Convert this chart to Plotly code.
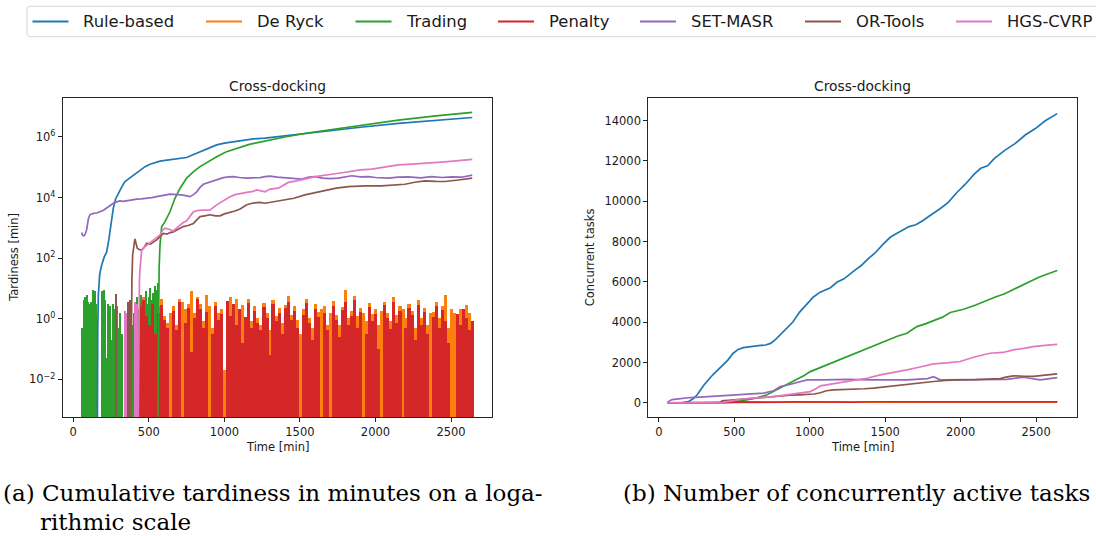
import plotly.graph_objects as go

# ---------------- data ----------------
SERIES = ["Rule-based", "De Ryck", "Trading", "Penalty", "SET-MASR", "OR-Tools", "HGS-CVRP"]
COLORS = ["#1f77b4", "#ff7f0e", "#2ca02c", "#d62728", "#9467bd", "#8c564b", "#e377c2"]

X_TICKS = [0, 500, 1000, 1500, 2000, 2500]
LOG_TICKS = [1e-2, 1e0, 1e2, 1e4, 1e6]
LOG_TICK_TEXT = ["10<sup>\u22122</sup>", "10<sup>0</sup>", "10<sup>2</sup>", "10<sup>4</sup>", "10<sup>6</sup>"]
LIN_TICKS = [0, 2000, 4000, 6000, 8000, 10000, 12000, 14000]

# (a) cumulative tardiness [min]
rule_tard_t = [60, 150, 158, 162, 166, 175, 188, 205, 221, 235, 250, 265, 280, 298, 320, 342, 375, 410, 442, 475,
               508, 540, 574, 620, 661, 705, 750, 800, 839, 900, 949, 1000, 1059, 1120, 1192, 1269, 1400, 1550,
               1710, 1900, 2151, 2400, 2640]
rule_tard_v = [0, 0, 0, 0.5, 6, 30, 60, 110, 160, 400, 1500, 4500, 9000, 14000, 22000, 34000, 45000, 62000,
               82000, 105000, 126000, 145000, 160000, 172000, 180000, 192000, 210000, 270000, 330000, 440000,
               550000, 630000, 700000, 780000, 860000, 920000, 1100000, 1350000, 1650000, 2100000, 2800000,
               3600000, 4400000]

deryck_tard_t = list(range(420, 2641, 20))
deryck_tard_v = [1.5, 3.0, 5.0, 2.0, 0.8, 4.0, 0.5, 2.5, 4.5, 1.2,
                 0.7, 1.5, 2.5, 0.6, 4.5, 3.5, 2.0, 3.0, 8.0, 1.5,
                 5.0, 3.0, 0.8, 6.0, 2.5, 0.5, 3.5, 1.5, 2.0, 0.02,
                 0, 5.0, 1.8, 4.5, 1.0, 2.8, 0.4, 4.5, 0.8, 2.5,
                 1.0, 0.6, 3.2, 1.5, 0.4, 4.0, 1.2, 2.2, 0.7, 2.8,
                 5.5, 1.3, 2.5, 0.9, 0.3, 2.0, 4.5, 1.0, 0.5, 3.0,
                 1.6, 2.0, 2.5, 0.6, 1.5, 3.8, 1.3, 0.6, 2.4, 8.5,
                 1.0, 1.8, 5.5, 1.2, 2.2, 1.5, 0.8, 3.2, 1.4, 2.0,
                 0.6, 1.8, 3.5, 1.5, 0.8, 5.0, 1.3, 2.5, 2.0, 1.0,
                 3.0, 1.8, 0.5, 4.0, 1.0, 2.2, 0.6, 1.5, 1.6, 3.5,
                 1.0, 2.5, 6.0, 0.5, 2.0, 1.5, 0.8, 2.0, 1.0, 2.8, 1.5, 0.7]

trading_spike_t = list(range(60, 561, 10))
trading_spike_v = [0.5, 4, 5, 6, 3.5, 3, 3.5, 9, 8, 3,
                   0, 0, 0, 8, 9, 4, 0.05, 3, 2.5, 0.2,
                   3, 2, 0, 2.5, 0.5, 1.5, 0.3, 0, 1.0, 0.4,
                   2.2, 1.0, 2.0, 0.6, 1.5, 3.0, 5.0, 2.0, 3.5, 6.0,
                   2.5, 4.0, 8.0, 3.0, 5.0, 10, 4.0, 7.0, 12, 9, 15]
trading_tard_t = [555, 564, 568, 574, 585, 607, 640, 673, 706, 750, 800, 839, 900, 949, 1010, 1081, 1160, 1236,
                  1269, 1400, 1550, 1710, 1900, 2151, 2400, 2640]
trading_tard_v = [0, 19, 47, 275, 1100, 1600, 3400, 9500, 20000, 44000, 75000, 105000, 165000, 224000, 320000,
                  427000, 560000, 680000, 740000, 1000000, 1350000, 1750000, 2500000, 3600000, 5000000, 6500000]

penalty_tard_t = list(range(440, 2641, 20))
penalty_tard_v = [2.5, 4.0, 1.2, 0.6, 3.0, 0.3, 1.5, 2.8, 0.9, 0.5,
                  0, 1.8, 0.4, 3.5, 0, 0.7, 2.2, 0.08, 1.0, 4.5,
                  2.0, 0.5, 1.6, 0, 0.3, 2.6, 0.9, 1.4, 0, 3.8,
                  1.2, 3.0, 0.6, 2.0, 0.15, 1.1, 3.3, 0.5, 1.8, 0.7,
                  0.4, 2.4, 1.0, 0.06, 2.9, 0.8, 1.5, 0.3, 2.2, 3.6,
                  0.9, 1.7, 0.5, 0, 1.3, 3.2, 0.7, 0.2, 2.0, 1.1,
                  0, 1.5, 0.4, 0, 2.6, 0.9, 0.25, 1.9, 3.4, 0.6,
                  1.2, 4.0, 0.5, 1.6, 0, 0.3, 2.3, 0.8, 1.4, 0.1,
                  0, 2.7, 1.0, 0.45, 3.6, 0.7, 1.8, 0, 0.5, 2.2,
                  1.3, 0.2, 2.8, 0.6, 1.6, 0.3, 0, 1.1, 2.5, 0.5,
                  1.9, 0.8, 0.15, 0, 0, 1.4, 0.6, 2.0, 1.0, 0.4, 0.8]

setmasr_tard_t = [55, 62, 71, 80, 88, 100, 110, 133, 155, 177, 200, 221, 243, 265, 287, 309, 331, 353, 380, 420,
                  450, 486, 520, 552, 590, 640, 690, 728, 772, 795, 817, 840, 861, 890, 927, 960, 993, 1030, 1059,
                  1100, 1148, 1190, 1236, 1269, 1302, 1350, 1401, 1450, 1512, 1560, 1600, 1650, 1700, 1754, 1800,
                  1843, 1900, 1950, 2000, 2085, 2150, 2217, 2300, 2371, 2440, 2503, 2570, 2640]
setmasr_tard_v = [700, 560, 550, 640, 850, 2000, 2700, 3000, 3100, 3400, 3800, 4500, 5500, 6500, 7200, 7800, 7500,
                  7800, 8500, 8900, 9000, 9300, 10000, 10700, 11500, 12900, 12500, 12000, 10700, 12500, 15500,
                  22000, 27500, 31000, 35500, 40000, 45700, 48000, 49000, 46000, 43600, 45000, 45700, 49000, 51000,
                  47000, 45700, 44000, 40700, 47000, 49000, 44000, 42000, 43600, 47000, 52500, 48000, 49000, 46000,
                  43600, 47000, 47900, 45000, 49000, 46000, 48000, 47000, 55000]

ortools_spike_t = [285, 365, 375]
ortools_spike_v = [6.5, 3.5, 4.0]
ortools_tard_t = [375, 382, 388, 393, 400, 408, 416, 424, 440, 453, 470, 486, 510, 530, 552, 575, 596, 620, 640,
                  662, 690, 710, 728, 760, 795, 820, 839, 870, 905, 940, 971, 1000, 1037, 1070, 1104, 1130, 1148,
                  1190, 1236, 1269, 1302, 1350, 1401, 1460, 1533, 1600, 1666, 1740, 1820, 1930, 2040, 2120, 2195,
                  2260, 2327, 2400, 2459, 2548, 2640]
ortools_tard_v = [0, 0.5, 20, 130, 250, 430, 300, 210, 190, 185, 230, 310, 290, 330, 400, 520, 660, 620, 700, 740,
                  900, 1000, 1100, 1200, 1400, 1900, 2350, 2500, 2700, 2500, 2500, 2900, 3200, 3600, 4200, 5000,
                  5800, 6600, 6900, 6500, 6900, 7500, 8300, 9500, 12300, 14500, 17800, 20500, 22900, 24500, 24500,
                  25500, 27500, 32000, 35500, 34000, 33900, 38000, 43600]

hgs_spike_t = [340, 350, 410, 420]
hgs_spike_v = [1.7, 1.5, 3.5, 3.0]
hgs_tard_t = [425, 433, 438, 442, 448, 453, 475, 500, 530, 552, 574, 590, 607, 635, 662, 685, 706, 728, 750, 772,
              795, 830, 861, 905, 949, 993, 1037, 1070, 1104, 1148, 1190, 1214, 1269, 1302, 1357, 1390, 1423, 1470,
              1512, 1560, 1600, 1660, 1710, 1780, 1843, 1900, 1975, 2060, 2151, 2240, 2327, 2400, 2459, 2550, 2640]
hgs_tard_v = [0, 0.5, 20, 47, 130, 186, 240, 300, 400, 480, 590, 820, 980, 900, 790, 1000, 1260, 1500, 1700, 2500,
              3400, 3800, 3900, 3900, 5750, 7760, 10700, 12500, 13800, 14800, 16000, 17800, 15500, 19000, 20400,
              25000, 31600, 35000, 38000, 44000, 49000, 53000, 58900, 66000, 75900, 82000, 87000, 100000, 120000,
              128000, 135000, 145000, 151000, 165000, 182000]

# (b) number of concurrently active tasks
rule_conc_t = [55, 150, 197, 231, 254, 299, 356, 412, 457, 491, 525, 560, 605, 660, 707, 740, 774, 842, 888, 933,
               978, 1024, 1069, 1137, 1182, 1227, 1295, 1341, 1386, 1431, 1488, 1533, 1590, 1658, 1703, 1748, 1805,
               1861, 1918, 1975, 2031, 2088, 2133, 2178, 2224, 2292, 2360, 2428, 2495, 2563, 2640]
rule_conc_v = [0, 0, 60, 230, 400, 890, 1380, 1790, 2120, 2450, 2650, 2740, 2800, 2840, 2870, 2950, 3150, 3640,
               4010, 4500, 4890, 5250, 5490, 5710, 5990, 6150, 6560, 6810, 7140, 7420, 7880, 8210, 8460, 8740,
               8830, 9030, 9330, 9610, 9940, 10430, 10840, 11330, 11630, 11750, 12120, 12520, 12850, 13280, 13600,
               14000, 14340]
deryck_conc_t = [55, 420, 440, 520, 600, 700, 800, 900, 1000, 1100, 1200, 1300, 1400, 1500, 1600, 1700, 1800,
                 1900, 2000, 2100, 2200, 2300, 2400, 2500, 2640]
deryck_conc_v = [0, 0, 20, 30, 25, 35, 30, 40, 30, 25, 35, 30, 40, 35, 45, 30, 35, 30, 40, 30, 35, 30, 40, 30, 35]
trading_conc_t = [55, 430, 500, 585, 650, 717, 770, 827, 870, 916, 960, 1004, 1060, 1114, 1180, 1247, 1310, 1379,
                  1450, 1512, 1580, 1644, 1710, 1770, 1820, 1880, 1931, 2019, 2100, 2174, 2230, 2292, 2360, 2428,
                  2518, 2580, 2640]
trading_conc_v = [0, 0, 40, 150, 250, 400, 600, 840, 1000, 1170, 1350, 1550, 1720, 1880, 2080, 2300, 2500, 2710,
                  2930, 3120, 3300, 3450, 3780, 3930, 4080, 4250, 4480, 4640, 4850, 5100, 5250, 5410, 5650, 5900,
                  6230, 6400, 6560]
penalty_conc_t = [55, 420, 440, 520, 600, 700, 800, 900, 1000, 1100, 1200, 1300, 1400, 1500, 1600, 1700, 1800,
                  1900, 2000, 2100, 2200, 2300, 2400, 2500, 2640]
penalty_conc_v = [0, 0, 30, 45, 35, 50, 40, 55, 45, 35, 50, 40, 55, 45, 60, 40, 50, 45, 55, 40, 50, 45, 55, 40, 50]
setmasr_conc_t = [55, 70, 88, 150, 209, 300, 430, 550, 695, 760, 805, 860, 916, 982, 1092, 1247, 1423, 1644, 1780,
                  1820, 1864, 2085, 2306, 2416, 2527, 2640]
setmasr_conc_v = [0, 100, 165, 220, 265, 300, 350, 420, 480, 600, 810, 900, 1010, 1140, 1140, 1170, 1140, 1140,
                  1200, 1300, 1140, 1140, 1170, 1270, 1140, 1250]
ortools_conc_t = [55, 400, 420, 480, 541, 600, 650, 700, 761, 820, 870, 930, 982, 1030, 1070, 1110, 1158, 1220,
                  1290, 1360, 1423, 1500, 1600, 1700, 1820, 1900, 1975, 2100, 2262, 2300, 2350, 2420, 2482, 2560,
                  2640]
ortools_conc_v = [0, 0, 100, 140, 170, 210, 250, 290, 330, 360, 380, 400, 420, 440, 500, 600, 640, 650, 680, 700,
                  730, 800, 890, 950, 1060, 1110, 1140, 1150, 1200, 1280, 1340, 1320, 1310, 1380, 1440]
hgs_conc_t = [55, 411, 480, 541, 650, 761, 894, 1004, 1040, 1070, 1140, 1203, 1290, 1379, 1467, 1550, 1644, 1730,
              1820, 1910, 1997, 2085, 2195, 2280, 2350, 2420, 2482, 2560, 2640]
hgs_conc_v = [0, 0, 100, 180, 250, 310, 450, 560, 700, 840, 930, 1010, 1100, 1220, 1390, 1500, 1640, 1780, 1930,
              1980, 2050, 2260, 2460, 2500, 2630, 2700, 2790, 2850, 2900]

# ---------------- geometry / style ----------------
W, H = 1096, 536
FONT = "DejaVu Sans"
SERIF = "DejaVu Serif"
AXIS_COLOR = "#262626"
TEXT_COLOR = "#1a1a1a"
LW = 1.7
FLOOR = 1e-6  # where zero tardiness is drawn on the log axis (below the visible range)


def fx(p):
    return p / W


def fy(p):
    return 1 - p / H


L_DOM = [fx(62.7), fx(492.0)]
R_DOM = [fx(648.3), fx(1077.0)]
Y_DOM = [fy(417.3), fy(98.3)]


def floored(vals):
    return [v if v > 0 else FLOOR for v in vals]


def nonzero(vals):
    return [v if v > 0 else None for v in vals]


fig = go.Figure()
C = dict(zip(SERIES, COLORS))

# ---- left panel: spiky parts as bars (zero = gap) ----
bar_specs = [
    ("De Ryck", deryck_tard_t, deryck_tard_v, 20.5),
    ("Trading", trading_spike_t, trading_spike_v, 10.3),
    ("Penalty", penalty_tard_t, penalty_tard_v, 20.5),
    ("OR-Tools", ortools_spike_t, ortools_spike_v, 10),
    ("HGS-CVRP", hgs_spike_t, hgs_spike_v, 10),
]
for name, t, v, w in bar_specs:
    fig.add_trace(go.Bar(x=t, y=nonzero(v), width=w, name=name, showlegend=False,
                         marker=dict(color=C[name], line=dict(width=0)), xaxis="x", yaxis="y"))

line_specs_a = [
    ("Rule-based", rule_tard_t, rule_tard_v),
    ("Trading", trading_tard_t, trading_tard_v),
    ("SET-MASR", setmasr_tard_t, setmasr_tard_v),
    ("OR-Tools", ortools_tard_t, ortools_tard_v),
    ("HGS-CVRP", hgs_tard_t, hgs_tard_v),
]
for name, t, v in line_specs_a:
    fig.add_trace(go.Scatter(x=t, y=floored(v), mode="lines", name=name, showlegend=False,
                             line=dict(color=C[name], width=LW), xaxis="x", yaxis="y"))

# ---- right panel ----
line_specs_b = [
    ("Rule-based", rule_conc_t, rule_conc_v),
    ("De Ryck", deryck_conc_t, deryck_conc_v),
    ("Trading", trading_conc_t, trading_conc_v),
    ("Penalty", penalty_conc_t, penalty_conc_v),
    ("SET-MASR", setmasr_conc_t, setmasr_conc_v),
    ("OR-Tools", ortools_conc_t, ortools_conc_v),
    ("HGS-CVRP", hgs_conc_t, hgs_conc_v),
]
for name, t, v in line_specs_b:
    fig.add_trace(go.Scatter(x=t, y=v, mode="lines", name=name, showlegend=False,
                             line=dict(color=C[name], width=LW), xaxis="x2", yaxis="y2"))

tickfont = dict(family=FONT, size=11.5, color=TEXT_COLOR)
common_axis = dict(showline=True, mirror=True, linecolor=AXIS_COLOR, linewidth=1, ticks="outside",
                   ticklen=4, tickwidth=1, tickcolor=AXIS_COLOR, showgrid=False, zeroline=False,
                   tickfont=tickfont)

fig.update_layout(
    width=W, height=H, margin=dict(l=0, r=0, t=0, b=0),
    paper_bgcolor="white", plot_bgcolor="white",
    barmode="overlay", bargap=0, showlegend=False,
    xaxis=dict(domain=L_DOM, anchor="y", range=[-70, 2771], tickvals=X_TICKS, tickformat="d", **common_axis),
    yaxis=dict(domain=Y_DOM, anchor="x", type="log", range=[-3.254, 7.277], tickvals=LOG_TICKS,
               ticktext=LOG_TICK_TEXT, **common_axis),
    xaxis2=dict(domain=R_DOM, anchor="y2", range=[-70, 2771], tickvals=X_TICKS, tickformat="d", **common_axis),
    yaxis2=dict(domain=Y_DOM, anchor="x2", range=[-715, 15100], tickvals=LIN_TICKS, tickformat="d",
                **common_axis),
)

ann = []
# subplot titles and axis labels
for cx in [(62.7 + 492.0) / 2, (648.3 + 1077.0) / 2]:
    ann.append(dict(x=fx(cx), y=fy(86.5), xref="paper", yref="paper", text="Cross-docking", showarrow=False,
                    xanchor="center", yanchor="middle", font=dict(family=FONT, size=13.8, color=TEXT_COLOR)))
    ann.append(dict(x=fx(cx), y=fy(446.5), xref="paper", yref="paper", text="Time [min]", showarrow=False,
                    xanchor="center", yanchor="middle", font=dict(family=FONT, size=11.5, color=TEXT_COLOR)))
ann.append(dict(x=fx(14), y=fy(257.8), xref="paper", yref="paper", text="Tardiness [min]", showarrow=False,
                textangle=-90, xanchor="center", yanchor="middle", font=dict(family=FONT, size=11.5, color=TEXT_COLOR)))
ann.append(dict(x=fx(589.5), y=fy(257.8), xref="paper", yref="paper", text="Concurrent tasks", showarrow=False,
                textangle=-90, xanchor="center", yanchor="middle", font=dict(family=FONT, size=11.5, color=TEXT_COLOR)))

# captions
ann.append(dict(x=fx(1), y=fy(493), xref="paper", yref="paper",
                text="(a) Cumulative tardiness in minutes on a loga-", showarrow=False,
                xanchor="left", yanchor="middle", font=dict(family=SERIF, size=23, color="black")))
ann.append(dict(x=fx(38.4), y=fy(522), xref="paper", yref="paper", text="rithmic scale", showarrow=False,
                xanchor="left", yanchor="middle", font=dict(family=SERIF, size=23, color="black")))
ann.append(dict(x=fx(856), y=fy(493), xref="paper", yref="paper",
                text="(b) Number of concurrently active tasks", showarrow=False,
                xanchor="center", yanchor="middle", font=dict(family=SERIF, size=23, color="black")))

# legend (framed row of line handles + labels, like matplotlib's ncol=7 legend)
LEG_X = [32.5, 206, 355.5, 498, 640, 805, 956]
LEG_Y = 21.5
shapes = []
x0, x1, y0, y1, r = 27, 1104, 6.3, 36.7, 3
path = (f"M {fx(x0 + r)},{fy(y0)} L {fx(x1 - r)},{fy(y0)} Q {fx(x1)},{fy(y0)} {fx(x1)},{fy(y0 + r)} "
        f"L {fx(x1)},{fy(y1 - r)} Q {fx(x1)},{fy(y1)} {fx(x1 - r)},{fy(y1)} "
        f"L {fx(x0 + r)},{fy(y1)} Q {fx(x0)},{fy(y1)} {fx(x0)},{fy(y1 - r)} "
        f"L {fx(x0)},{fy(y0 + r)} Q {fx(x0)},{fy(y0)} {fx(x0 + r)},{fy(y0)} Z")
shapes.append(dict(type="path", xref="paper", yref="paper", path=path,
                   line=dict(color="#d6d6d6", width=1), fillcolor="rgba(255,255,255,0.8)", layer="above"))
for lx, name in zip(LEG_X, SERIES):
    shapes.append(dict(type="line", xref="paper", yref="paper", x0=fx(lx), x1=fx(lx + 36), y0=fy(LEG_Y),
                       y1=fy(LEG_Y), line=dict(color=C[name], width=2.2), layer="above"))
    ann.append(dict(x=fx(lx + 48.5), y=fy(LEG_Y), xref="paper", yref="paper", text=name, showarrow=False,
                    xanchor="left", yanchor="middle", font=dict(family=FONT, size=16.4, color=TEXT_COLOR)))

fig.update_layout(annotations=ann, shapes=shapes)
fig.write_html("out.html")
